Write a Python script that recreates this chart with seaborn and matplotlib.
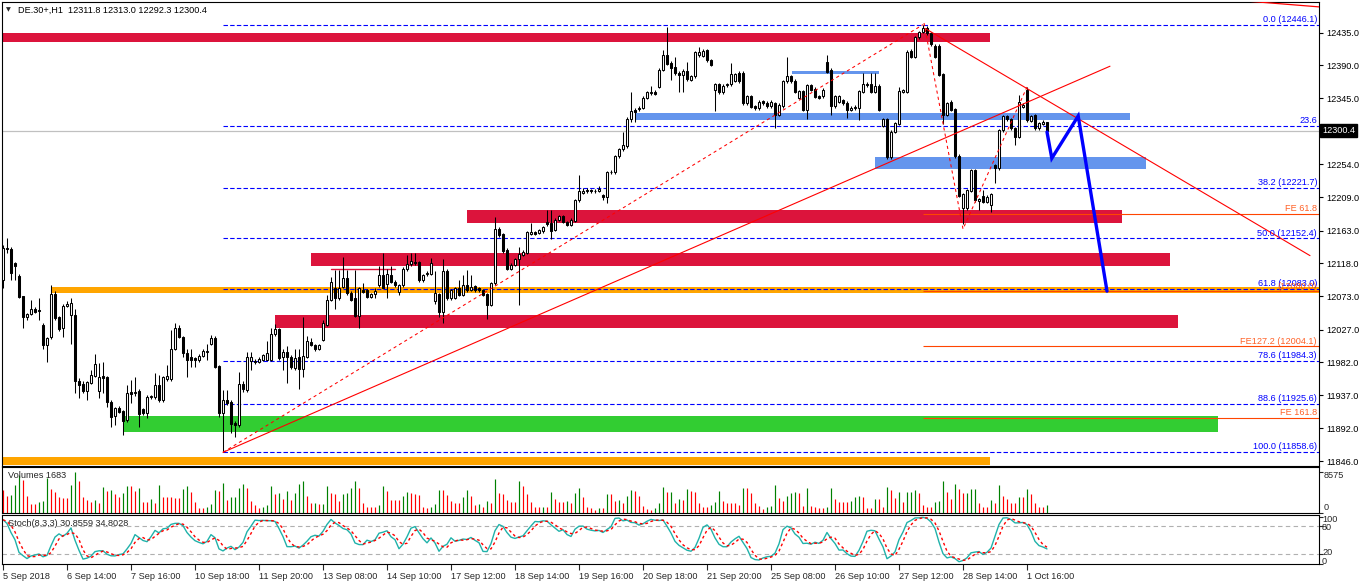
import numpy as np
import pandas as pd
import matplotlib
matplotlib.use("Agg")
import matplotlib.pyplot as plt
import seaborn as sns

sns.set_style("white")
plt.rcParams['font.family'] = ['Liberation Sans', 'DejaVu Sans']

# ---------------- DATA (DE.30+, H1) ----------------
opens = [
    12095, 12139, 12138, 12118, 12101, 12073, 12044, 12049, 12056, 12054,
    12033, 12006, 12017, 12076, 12044, 12029, 12060, 12047, 12047, 11957,
    11953, 11943, 11954, 11964, 11943, 11963, 11962, 11928, 11909, 11920,
    11915, 11903, 11941, 11940, 11943, 11918, 11912, 11934, 11934, 11951,
    11930, 11959, 11959, 12001, 12029, 12017, 11995, 11989, 11988, 11985,
    11991, 11997, 12008, 12015, 11977, 11912, 11930, 11928, 11899, 11896,
    11953, 11944, 11984, 11984, 11983, 11986, 11986, 11986, 12021, 12028,
    11989, 11996, 11990, 11975, 11990, 11973, 11990, 12010, 12006, 12001,
    12013, 12034, 12068, 12085, 12070, 12086, 12098, 12078, 12070, 12046,
    12082, 12081, 12072, 12076, 12088, 12102, 12090, 12102, 12093, 12079,
    12088, 12110, 12117, 12120, 12120, 12095, 12103, 12104, 12067, 12076,
    12052, 12108, 12070, 12071, 12084, 12075, 12088, 12082, 12087, 12084,
    12081, 12076, 12061, 12091, 12166, 12158, 12137, 12111, 12116, 12124,
    12130, 12133, 12159, 12161, 12160, 12162, 12175, 12173, 12164, 12178,
    12183, 12175, 12171, 12177, 12205, 12215, 12217, 12219, 12218, 12218,
    12212, 12209, 12243, 12243, 12265, 12275, 12279, 12317, 12329, 12330,
    12332, 12346, 12352, 12354, 12361, 12384, 12404, 12394, 12388, 12380,
    12377, 12383, 12370, 12375, 12404, 12403, 12411, 12397, 12357, 12364,
    12353, 12363, 12364, 12369, 12380, 12380, 12338, 12348, 12334, 12331,
    12341, 12339, 12334, 12338, 12322, 12334, 12368, 12375, 12369, 12346,
    12355, 12329, 12363, 12358, 12348, 12348, 12395, 12384, 12334, 12340,
    12342, 12339, 12329, 12331, 12332, 12354, 12365, 12364, 12354, 12362,
    12307, 12316, 12264, 12299, 12310, 12354, 12354, 12410, 12402, 12429,
    12436, 12441, 12434, 12417, 12417, 12378, 12322, 12340, 12330, 12266,
    12194, 12194, 12218, 12246, 12204, 12211, 12203, 12198, 12253, 12249,
    12301, 12320, 12316, 12304, 12292, 12333, 12356, 12314, 12322, 12304,
    12310, 12311.8,
]
highs = [
    12143, 12153, 12140, 12120, 12103, 12074, 12050, 12068, 12058, 12070,
    12036, 12017, 12088, 12080, 12046, 12062, 12066, 12070, 12056, 11960,
    11956, 11957, 11972, 11994, 11981, 11983, 11964, 11930, 11921, 11922,
    11917, 11951, 11958, 11962, 11945, 11920, 11937, 11938, 11967, 11965,
    11964, 11979, 12027, 12036, 12033, 12019, 12001, 12001, 11990, 11993,
    12000, 12008, 12020, 12018, 11979, 11944, 11944, 11930, 11901, 11969,
    11956, 11997, 11997, 11987, 11990, 11994, 12011, 12029, 12035, 12030,
    12001, 12004, 11992, 12001, 12001, 12045, 12018, 12015, 12008, 12008,
    12040, 12075, 12100, 12109, 12109, 12127, 12109, 12080, 12109, 12086,
    12091, 12083, 12078, 12084, 12114, 12132, 12111, 12114, 12095, 12090,
    12113, 12130, 12132, 12133, 12122, 12104, 12107, 12125, 12107, 12078,
    12124, 12110, 12083, 12086, 12095, 12102, 12109, 12102, 12089, 12086,
    12083, 12078, 12093, 12182, 12168, 12160, 12139, 12118, 12126, 12141,
    12136, 12163, 12174, 12163, 12166, 12170, 12191, 12192, 12180, 12185,
    12185, 12177, 12180, 12207, 12239, 12222, 12222, 12221, 12220, 12225,
    12214, 12245, 12246, 12267, 12277, 12299, 12319, 12354, 12331, 12334,
    12348, 12355, 12362, 12356, 12386, 12411, 12443, 12396, 12402, 12382,
    12385, 12395, 12377, 12410, 12416, 12412, 12413, 12399, 12366, 12366,
    12364, 12366, 12393, 12380, 12382, 12382, 12350, 12350, 12336, 12342,
    12343, 12341, 12342, 12340, 12338, 12370, 12402, 12377, 12371, 12357,
    12357, 12365, 12365, 12360, 12350, 12359, 12404, 12386, 12350, 12350,
    12344, 12341, 12334, 12336, 12357, 12379, 12367, 12379, 12379, 12364,
    12318, 12318, 12301, 12313, 12361, 12358, 12411, 12412, 12431, 12438,
    12446, 12444, 12436, 12419, 12419, 12380, 12340, 12342, 12332, 12268,
    12215, 12221, 12248, 12248, 12208, 12219, 12212, 12215, 12255, 12303,
    12322, 12322, 12318, 12306, 12349, 12338, 12361, 12322, 12324, 12313,
    12315, 12313.0,
]
lows = [
    12084, 12132, 12095, 12095, 12070, 12029, 12041, 12047, 12050, 12040,
    12001, 11982, 12014, 12040, 12025, 12017, 12058, 12008, 11940, 11933,
    11940, 11931, 11952, 11962, 11933, 11940, 11921, 11894, 11896, 11912,
    11882, 11900, 11926, 11936, 11893, 11910, 11906, 11932, 11932, 11928,
    11928, 11957, 11957, 11999, 12015, 11990, 11962, 11976, 11976, 11983,
    11989, 11985, 12006, 11974, 11907, 11859, 11924, 11885, 11880, 11893,
    11942, 11942, 11972, 11980, 11981, 11984, 11985, 11984, 12019, 11986,
    11972, 11954, 11973, 11972, 11946, 11962, 11988, 12004, 11998, 11999,
    12011, 12032, 12066, 12056, 12068, 12084, 12075, 12066, 12044, 12030,
    12077, 12070, 12070, 12070, 12086, 12084, 12070, 12091, 12086, 12075,
    12086, 12108, 12115, 12116, 12093, 12093, 12101, 12102, 12063, 12045,
    12036, 12068, 12068, 12069, 12073, 12073, 12079, 12080, 12079, 12079,
    12073, 12042, 12059, 12089, 12155, 12133, 12109, 12109, 12114, 12061,
    12128, 12131, 12157, 12157, 12158, 12160, 12170, 12151, 12162, 12176,
    12173, 12169, 12169, 12175, 12203, 12213, 12215, 12215, 12215, 12216,
    12205, 12201, 12241, 12241, 12263, 12273, 12277, 12313, 12313, 12328,
    12330, 12344, 12350, 12349, 12359, 12382, 12390, 12370, 12377, 12354,
    12354, 12369, 12368, 12373, 12402, 12401, 12395, 12389, 12328, 12351,
    12351, 12361, 12362, 12367, 12366, 12336, 12336, 12331, 12329, 12329,
    12336, 12332, 12332, 12304, 12320, 12332, 12366, 12366, 12352, 12344,
    12327, 12317, 12355, 12345, 12344, 12346, 12379, 12322, 12332, 12338,
    12336, 12318, 12327, 12329, 12315, 12352, 12361, 12352, 12352, 12327,
    12305, 12262, 12262, 12297, 12308, 12352, 12352, 12400, 12400, 12427,
    12434, 12432, 12417, 12400, 12375, 12310, 12320, 12327, 12263, 12209,
    12172, 12192, 12216, 12203, 12191, 12201, 12201, 12189, 12228, 12247,
    12299, 12314, 12302, 12281, 12290, 12331, 12313, 12312, 12302, 12302,
    12308, 12292.3,
]
closes = [
    12139, 12138, 12105, 12114, 12072, 12044, 12048, 12056, 12052, 12053,
    12006, 12015, 12076, 12043, 12028, 12060, 12063, 12064, 11956, 11951,
    11943, 11955, 11965, 11980, 11962, 11961, 11928, 11907, 11919, 11914,
    11902, 11940, 11939, 11942, 11911, 11912, 11935, 11936, 11951, 11930,
    11962, 11963, 12001, 12029, 12017, 11995, 11986, 11986, 11985, 11991,
    11998, 11998, 12015, 11976, 11912, 11930, 11927, 11898, 11896, 11953,
    11945, 11989, 11989, 11983, 11987, 11992, 11995, 12021, 12028, 11988,
    11996, 11989, 11976, 11988, 11973, 11991, 12011, 12006, 12000, 12006,
    12036, 12068, 12093, 12070, 12085, 12098, 12077, 12068, 12046, 12084,
    12079, 12072, 12076, 12080, 12102, 12085, 12104, 12093, 12088, 12088,
    12111, 12117, 12122, 12118, 12095, 12102, 12105, 12118, 12078, 12052,
    12108, 12070, 12081, 12084, 12075, 12088, 12081, 12086, 12081, 12081,
    12075, 12061, 12091, 12166, 12157, 12135, 12111, 12116, 12124, 12131,
    12134, 12161, 12161, 12159, 12164, 12168, 12172, 12163, 12178, 12183,
    12175, 12171, 12178, 12205, 12217, 12218, 12219, 12217, 12217, 12221,
    12210, 12243, 12244, 12265, 12275, 12281, 12317, 12328, 12326, 12332,
    12346, 12353, 12354, 12351, 12384, 12405, 12392, 12386, 12379, 12377,
    12383, 12371, 12375, 12408, 12408, 12410, 12397, 12391, 12364, 12353,
    12362, 12364, 12378, 12378, 12368, 12338, 12348, 12333, 12331, 12340,
    12338, 12334, 12340, 12322, 12336, 12368, 12375, 12368, 12354, 12355,
    12329, 12363, 12357, 12347, 12346, 12357, 12381, 12334, 12348, 12348,
    12338, 12329, 12332, 12333, 12355, 12364, 12363, 12354, 12362, 12329,
    12316, 12264, 12299, 12311, 12355, 12356, 12409, 12402, 12429, 12436,
    12441, 12434, 12419, 12402, 12377, 12322, 12338, 12329, 12265, 12211,
    12213, 12219, 12246, 12205, 12206, 12203, 12210, 12213, 12249, 12301,
    12320, 12316, 12304, 12292, 12340, 12336, 12315, 12320, 12304, 12311,
    12313, 12300.4,
]
volumes = [
    4760, 3500, 3710, 5810, 7910, 6860, 3500, 1820, 1820, 2310,
    2520, 7210, 4970, 4270, 3220, 3080, 3080, 5810, 8575, 6720,
    3360, 2660, 2310, 2660, 1960, 5460, 4620, 4760, 3850, 3220,
    4200, 5600, 5600, 4620, 5180, 2310, 2310, 2800, 1960, 5810,
    3360, 3220, 3220, 3010, 3010, 4900, 5600, 4270, 2310, 910,
    910, 1120, 1820, 4760, 4620, 6300, 2660, 3220, 3360, 5180,
    6020, 5180, 2520, 1610, 910, 1260, 1610, 5600, 3920, 4200,
    2800, 4550, 2660, 4200, 6020, 6650, 3500, 1960, 2100, 1750,
    1820, 5600, 4130, 3920, 2520, 3920, 4200, 5110, 6650, 5110,
    1960, 1120, 1120, 1120, 1610, 5600, 4620, 2660, 2660, 2660,
    3500, 4270, 4200, 3920, 3710, 1260, 910, 1120, 1820, 4760,
    4760, 3710,
    2520, 2100, 2100, 3360, 4760, 3570, 1610, 1820, 1260, 2450,
    2100, 7070, 4200, 3920, 2660, 2310, 2310, 6650, 5600, 3850,
    2170, 1120, 1120, 1260, 1260, 4410, 2800, 2170, 2170, 2520,
    1960, 4200, 5110, 3360, 1260, 910, 560, 910, 910, 3920,
    3920, 2520, 2660, 2100, 3500, 4760, 4550, 3500, 1400, 700,
    560, 910, 1960, 5320, 4340, 4410, 1960, 2800, 2660, 4900,
    4620, 4270, 1960, 1120, 1120, 1610, 2240, 4620, 2520, 2100,
    1960, 1960, 1680, 5110, 5110, 4060, 2100, 1400, 700, 1260,
    1400, 5810, 3010, 2450, 3500, 4060, 4270, 4060, 1400, 5110,
    1400, 1260, 1050, 1050, 1260, 5110, 2800, 2170, 2170, 2170,
    2520, 3360, 3500, 3360, 910, 910, 2870, 2870, 1260, 5320,
    4760, 3150, 4410,
    2310, 4270, 4410, 4760, 4060, 1610, 1260, 1120, 2310, 2520,
    6650, 4410, 2870, 6020, 4970, 4060, 4200, 4900, 4970, 2100,
    1260, 1260, 2660, 2100, 5810, 3570, 2870, 2100, 2100, 3360,
    3360, 4970, 3920, 1960, 1260, 1120, 1683,
]
assert len(opens) == len(highs) == len(lows) == len(closes) == len(volumes) == 262

x_tick_labels = ["5 Sep 2018", "6 Sep 14:00", "7 Sep 16:00", "10 Sep 18:00", "11 Sep 20:00",
                 "13 Sep 08:00", "14 Sep 10:00", "17 Sep 12:00", "18 Sep 14:00", "19 Sep 16:00",
                 "20 Sep 18:00", "21 Sep 20:00", "25 Sep 08:00", "26 Sep 10:00", "27 Sep 12:00",
                 "28 Sep 14:00", "1 Oct 16:00"]
price_ticks = [12435.0, 12390.0, 12345.0, 12254.0, 12209.0, 12163.0, 12118.0,
               12073.0, 12027.0, 11982.0, 11937.0, 11892.0, 11846.0]
last_price = 12300.4

# Fibonacci retracement (low bar 55 -> high bar 230)
fib_levels = [12446.1, 12307.4, 12221.7, 12152.4, 12083.0, 11984.3, 11925.6, 11858.6]
fib_labels = ["0.0 (12446.1)", "23.6", "38.2 (12221.7)", "50.0 (12152.4)", "61.8 (12083.0)",
              "78.6 (11984.3)", "88.6 (11925.6)", "100.0 (11858.6)"]
fib_start_bar = 55
# Fibonacci expansion
fe_levels = [12186.0, 12079.6, 12004.1, 11905.3]
fe_labels = ["FE 61.8", "(12080.0)", "FE127.2 (12004.1)", "FE 161.8"]
fe_start_bar = 230

# zones: (start bar, end bar, low price, high price)
red_zones = [(-1, 246.75, 12422.6, 12434.2), (116, 279.75, 12174.0, 12191.3),
             (77, 291.75, 12114.4, 12132.7), (68, 293.75, 12029.8, 12047.2)]
orange_zones = [(12.25, 330, 12077.9, 12085.2), (-1, 246.75, 11841.2, 11852.6)]
green_zones = [(30.25, 303.75, 11886.9, 11908.4)]
blue_zones = [(158.25, 281.75, 12315.0, 12324.2), (218, 285.75, 12247.7, 12264.6),
              (197.25, 219, 12378.7, 12382.3)]
crimson_line = ([82, 98], [12110, 12110])

# trend lines (bar, price)
trend_up = ([55, 276.75], [11858.6, 12389.0])
trend_down = ([230.5, 326.75], [12441.0, 12128.8])
trend_top = ([312, 329], [12478.0, 12470.5])
fib_diag = ([55, 230], [11858.6, 12446.1])
fe_zigzag = ([230.25, 240, 256], [12448.3, 12165.4, 12360.4])
projection = ([261, 262.2, 268.8, 276], [12298.6, 12262.5, 12320.6, 12080.0])

# ---------------- FIGURE ----------------
W, H = 1362, 585
fig = plt.figure(figsize=(W / 100, H / 100), dpi=100)
fig.patch.set_facecolor("white")


def px_axes(x0, y0, x1, y1):
    return fig.add_axes([x0 / W, 1 - y1 / H, (x1 - x0) / W, (y1 - y0) / H])


def ptext(xp, yp, s, **kw):
    fig.text(xp / W, 1 - yp / H, s, **kw)


FS = 6.6
ax = px_axes(2, 2, 1319, 466)
axv = px_axes(2, 467, 1319, 513)
axs = px_axes(2, 515, 1319, 564)

XMIN, XMAX = -0.25, 329
for a in (ax, axv, axs):
    a.set_xlim(XMIN, XMAX)
    a.set_facecolor("white")
    for sp in a.spines.values():
        sp.set_color("black")
        sp.set_linewidth(0.8)
        sp.set_visible(True)

o = np.array(opens, float)
h = np.array(highs, float)
l = np.array(lows, float)
c = np.array(closes, float)
v = np.array(volumes, float)
idx = np.arange(len(o))

# zones
for x0, x1, lo, hi in red_zones:
    ax.fill_between([x0, x1], lo, hi, color="#DC143C", lw=0, zorder=1)
for x0, x1, lo, hi in orange_zones:
    ax.fill_between([x0, x1], lo, hi, color="#FFA500", lw=0, zorder=1)
for x0, x1, lo, hi in green_zones:
    ax.fill_between([x0, x1], lo, hi, color="#32CD32", lw=0, zorder=1)
for x0, x1, lo, hi in blue_zones:
    ax.fill_between([x0, x1], lo, hi, color="#6495ED", lw=0, zorder=1)
ax.plot(*crimson_line, color="#DC143C", lw=1.0, zorder=1.5)

# current price line
ax.axhline(last_price, color="#C0C0C0", lw=0.9, zorder=1.6)

# fib retracement lines
for lev, lab in zip(fib_levels, fib_labels):
    ax.hlines(lev, fib_start_bar, XMAX, colors="#0000FF", lw=0.8,
              linestyles=[(0, (4, 2))], zorder=2)
    ax.text(328.5, lev + 1.2, lab, ha="right", va="bottom", color="#0000FF",
            fontsize=FS, zorder=6)
for lev, lab in zip(fe_levels, fe_labels):
    ax.hlines(lev, fe_start_bar, XMAX, colors="#FF4500", lw=0.8, zorder=2)
    ax.text(328.5, lev + 1.2, lab, ha="right", va="bottom", color="#FF4500",
            fontsize=FS, zorder=6, alpha=0.85)

# candles
ax.vlines(idx, l, h, color="black", lw=0.75, zorder=3)
up = c >= o
body_lo = np.minimum(o, c)
body_h = np.abs(c - o)
ax.bar(idx[up], body_h[up], bottom=body_lo[up], width=0.5, color="white",
       edgecolor="black", linewidth=0.75, zorder=4)
ax.bar(idx[~up], body_h[~up], bottom=body_lo[~up], width=0.5, color="black",
       edgecolor="black", linewidth=0.75, zorder=4)

# trend lines
ax.plot(*trend_up, color="#FF0000", lw=0.8, zorder=5)
ax.plot(*trend_down, color="#FF0000", lw=0.8, zorder=5)
ax.plot(*trend_top, color="#FF0000", lw=0.9, zorder=5)
ax.plot(*fib_diag, color="#FF0000", lw=0.75, ls=(0, (3, 3)), zorder=5)
ax.plot(*fe_zigzag, color="#FF0000", lw=0.75, ls=(0, (3, 3)), zorder=5)
ax.plot(*projection, color="#0000FF", lw=2.4, zorder=5, solid_joinstyle="miter")

ax.set_ylim(11839.8, 12477.2)
ax.yaxis.tick_right()
ax.set_yticks(price_ticks)
ax.set_yticklabels([f"{p:.1f}" for p in price_ticks])
ax.tick_params(axis="y", direction="out", length=3, width=0.8, pad=2,
               labelsize=FS, colors="black", right=True, left=False)
ax.set_xticks([])

# last price box
ptext(1322, 130.5, "12300.4", color="white", fontsize=FS, va="center", ha="left",
      bbox=dict(boxstyle="square,pad=0.25", fc="black", ec="black"))

# title
ptext(6, 10, "\u25BC", fontsize=4.5, va="center", ha="left", family="DejaVu Sans")
ptext(18, 10, "DE.30+,H1  12311.8 12313.0 12292.3 12300.4", fontsize=FS,
      va="center", ha="left", color="black")

# volumes
vcol = ["#008000" if i > 0 and v[i] > v[i - 1] else "#FF0000" for i in range(len(v))]
axv.vlines(idx, 0, v, colors=vcol, lw=0.85)
axv.set_ylim(-60, 9550)
axv.set_xticks([])
axv.yaxis.tick_right()
axv.set_yticks([8575, 0])
axv.set_yticklabels([])
axv.tick_params(axis="y", direction="out", length=3, width=0.8, right=True, left=False)
ptext(8, 476, "Volumes 1683", fontsize=FS, va="center", ha="left")
ptext(1324, 475, "8575", fontsize=FS, va="center", ha="left")
ptext(1324, 507, "0", fontsize=FS, va="center", ha="left")

# stochastic (8,3,3) computed from the candles
cs = pd.Series(c)
ll = pd.Series(l).rolling(8, min_periods=1).min()
hh = pd.Series(h).rolling(8, min_periods=1).max()
k_line = 100 * (cs - ll).rolling(3, min_periods=1).sum() / (hh - ll).rolling(3, min_periods=1).sum()
d_line = k_line.rolling(3, min_periods=1).mean()
stoch = pd.DataFrame({"bar": idx, "main": k_line.values, "signal": d_line.values})

axs.axhline(80, color="#B0B0B0", lw=0.8, ls=(0, (4, 3)))
axs.axhline(20, color="#B0B0B0", lw=0.8, ls=(0, (4, 3)))
sns.lineplot(data=stoch, x="bar", y="main", ax=axs, color="#20B2AA", lw=1.0, legend=False)
sns.lineplot(data=stoch, x="bar", y="signal", ax=axs, color="#FF0000", lw=1.0,
             linestyle=(0, (2, 2)), legend=False)
axs.set_ylim(-0.6, 103.2)
axs.set_xlim(XMIN, XMAX)
axs.set_xlabel("")
axs.set_ylabel("")
axs.yaxis.tick_right()
axs.set_yticks([100, 80, 20, 0])
axs.set_yticklabels([])
axs.tick_params(axis="y", direction="out", length=3, width=0.8, right=True, left=False)
ptext(8, 524, "Stoch(8,3,3) 30.8559 34.8028", fontsize=FS, va="center", ha="left")
ptext(1322, 519, "100", fontsize=FS, va="center", ha="left")
ptext(1322, 528, "80", fontsize=FS, va="center", ha="left")
ptext(1322, 552.5, "20", fontsize=FS, va="center", ha="left")
ptext(1322, 561, "0", fontsize=FS, va="center", ha="left")

axs.set_xticks(list(range(0, 16 * len(x_tick_labels), 16)))
axs.set_xticklabels(x_tick_labels)
for lbl in axs.get_xticklabels():
    lbl.set_ha("left")
axs.tick_params(axis="x", direction="out", length=4, width=0.8, pad=2,
                labelsize=FS, bottom=True)

fig.savefig("out.png", dpi=100)
